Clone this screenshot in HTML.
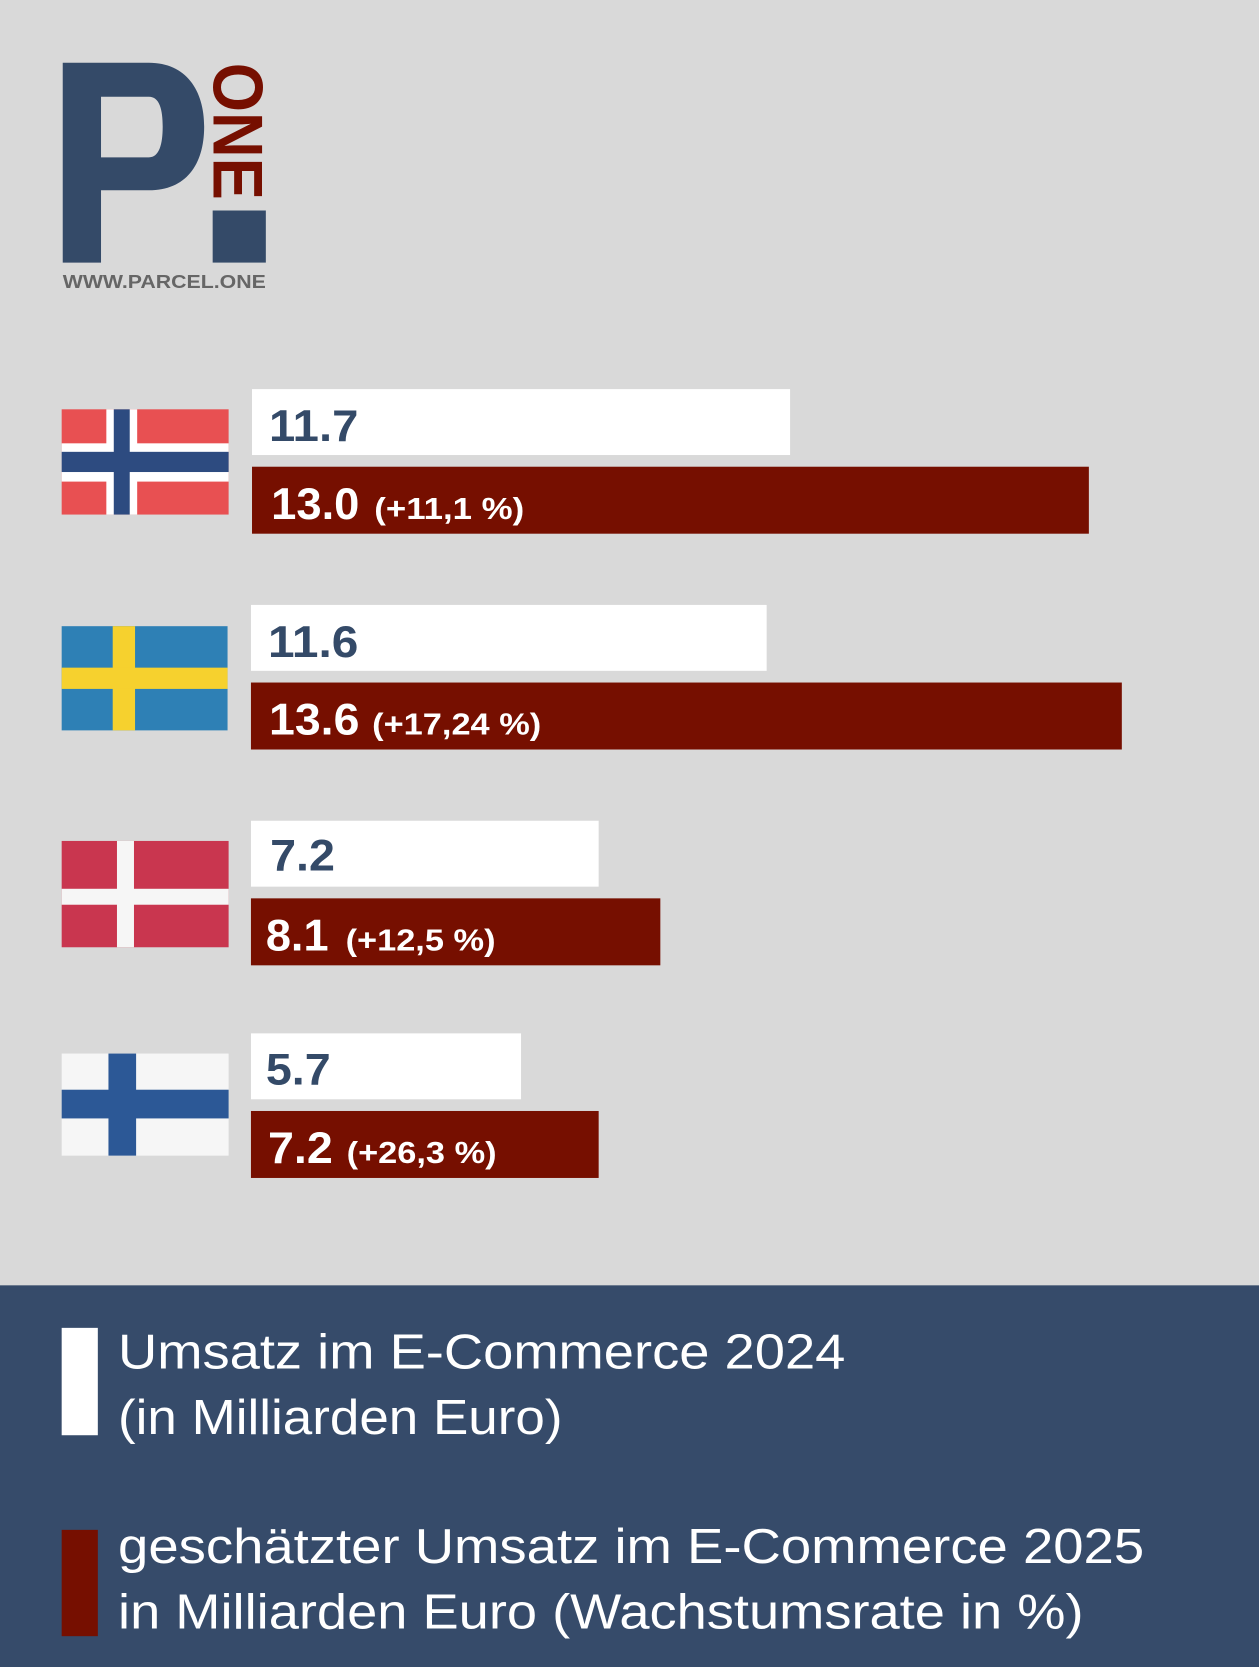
<!DOCTYPE html>
<html><head><meta charset="utf-8"><style>
html,body{margin:0;padding:0;background:#d9d9d9;}
svg{display:block;}
text{font-family:"Liberation Sans",Arial,sans-serif;}
</style></head><body>
<svg width="1259" height="1667" viewBox="0 0 1184 1568" preserveAspectRatio="none" xmlns="http://www.w3.org/2000/svg">
<rect width="1184" height="1568" fill="#d9d9d9"/>
<!-- logo -->
<path d="M59 59 H140 C175 59 192 85 192 119 C192 155 175 179 140 179 H95 V247 H59 Z M95 91 V148 H140 C150 148 153 135 153 119 C153 103 150 91 140 91 Z" fill="#344a68" fill-rule="evenodd"/>
<text transform="translate(201,59) rotate(90)" font-size="66" font-weight="bold" fill="#760f00" textLength="129" lengthAdjust="spacingAndGlyphs">ONE</text>
<rect x="200" y="198" width="50" height="49" fill="#344a68"/>
<text x="59" y="271" font-size="17" font-weight="bold" fill="#666" textLength="191" lengthAdjust="spacingAndGlyphs">WWW.PARCEL.ONE</text>

<!-- Norway -->
<rect x="58" y="385" width="157" height="99" fill="#e85052"/>
<rect x="100" y="385" width="29" height="99" fill="#fff"/>
<rect x="58" y="417" width="157" height="36" fill="#fff"/>
<rect x="107" y="385" width="15" height="99" fill="#2d4b80"/>
<rect x="58" y="425" width="157" height="19" fill="#2d4b80"/>
<rect x="237" y="366" width="506" height="62" fill="#fff"/>
<rect x="237" y="439" width="787" height="63" fill="#760f00"/>
<text x="253" y="415" font-size="42" font-weight="bold" fill="#344a68" textLength="84" lengthAdjust="spacingAndGlyphs">11.7</text>
<text x="255" y="488" font-size="42" font-weight="bold" fill="#fff" textLength="83" lengthAdjust="spacingAndGlyphs">13.0</text>
<text x="352" y="488" font-size="29" font-weight="bold" fill="#fff" textLength="141" lengthAdjust="spacingAndGlyphs">(+11,1 %)</text>

<!-- Sweden -->
<rect x="58" y="589" width="156" height="98" fill="#2e80b5"/>
<rect x="106" y="589" width="21" height="98" fill="#f6d12e"/>
<rect x="58" y="628" width="156" height="20" fill="#f6d12e"/>
<rect x="236" y="569" width="485" height="62" fill="#fff"/>
<rect x="236" y="642" width="819" height="63" fill="#760f00"/>
<text x="252" y="618" font-size="42" font-weight="bold" fill="#344a68" textLength="85" lengthAdjust="spacingAndGlyphs">11.6</text>
<text x="253" y="691" font-size="42" font-weight="bold" fill="#fff" textLength="85" lengthAdjust="spacingAndGlyphs">13.6</text>
<text x="350" y="691" font-size="29" font-weight="bold" fill="#fff" textLength="159" lengthAdjust="spacingAndGlyphs">(+17,24 %)</text>

<!-- Denmark -->
<rect x="58" y="791" width="157" height="100" fill="#c9364f"/>
<rect x="110" y="791" width="16" height="100" fill="#f6f6f6"/>
<rect x="58" y="836" width="157" height="15" fill="#f6f6f6"/>
<rect x="236" y="772" width="327" height="62" fill="#fff"/>
<rect x="236" y="845" width="385" height="63" fill="#760f00"/>
<text x="254" y="819" font-size="42" font-weight="bold" fill="#344a68" textLength="61" lengthAdjust="spacingAndGlyphs">7.2</text>
<text x="250" y="894" font-size="42" font-weight="bold" fill="#fff" textLength="59" lengthAdjust="spacingAndGlyphs">8.1</text>
<text x="325" y="894" font-size="29" font-weight="bold" fill="#fff" textLength="141" lengthAdjust="spacingAndGlyphs">(+12,5 %)</text>

<!-- Finland -->
<rect x="58" y="991" width="157" height="96" fill="#f6f6f6"/>
<rect x="102" y="991" width="26" height="96" fill="#2c5896"/>
<rect x="58" y="1025" width="157" height="27" fill="#2c5896"/>
<rect x="236" y="972" width="254" height="62" fill="#fff"/>
<rect x="236" y="1045" width="327" height="63" fill="#760f00"/>
<text x="250" y="1020" font-size="42" font-weight="bold" fill="#344a68" textLength="61" lengthAdjust="spacingAndGlyphs">5.7</text>
<text x="252" y="1094" font-size="42" font-weight="bold" fill="#fff" textLength="61" lengthAdjust="spacingAndGlyphs">7.2</text>
<text x="326" y="1094" font-size="29" font-weight="bold" fill="#fff" textLength="141" lengthAdjust="spacingAndGlyphs">(+26,3 %)</text>

<!-- footer -->
<rect x="0" y="1209" width="1184" height="359" fill="#364b6a"/>
<rect x="58" y="1249" width="34" height="101" fill="#fff"/>
<text x="111" y="1287" font-size="46" fill="#fff" textLength="684" lengthAdjust="spacingAndGlyphs">Umsatz im E-Commerce 2024</text>
<text x="111" y="1349" font-size="46" fill="#fff" textLength="418" lengthAdjust="spacingAndGlyphs">(in Milliarden Euro)</text>
<rect x="58" y="1439" width="34" height="100" fill="#760f00"/>
<text x="111" y="1470" font-size="46" fill="#fff" textLength="965" lengthAdjust="spacingAndGlyphs">geschätzter Umsatz im E-Commerce 2025</text>
<text x="111" y="1532" font-size="46" fill="#fff" textLength="908" lengthAdjust="spacingAndGlyphs">in Milliarden Euro (Wachstumsrate in %)</text>
</svg>
</body></html>
